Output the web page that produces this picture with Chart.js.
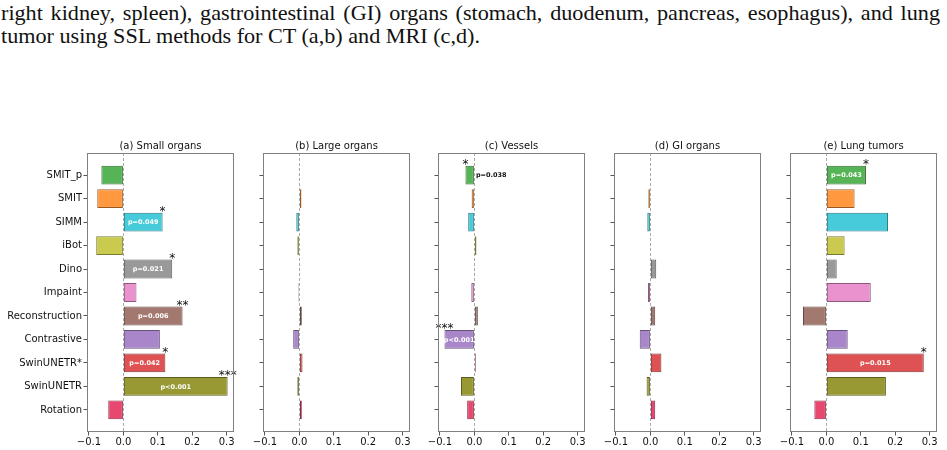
<!DOCTYPE html>
<html><head><meta charset="utf-8">
<script src="https://cdn.jsdelivr.net/npm/chart.js@4.4.0/dist/chart.umd.min.js"></script>
<style>
html,body{margin:0;padding:0;background:#fff;width:947px;height:450px;overflow:hidden;position:relative;}
.cap{position:absolute;left:1px;font-family:"Liberation Serif","DejaVu Serif",serif;font-size:21px;line-height:23px;color:#111;white-space:nowrap;transform-origin:0 0;}
canvas{position:absolute;}
</style></head><body>
<div id="l1" class="cap" style="top:2px">right kidney, spleen), gastrointestinal (GI) organs (stomach, duodenum, pancreas, esophagus), and lung</div>
<div id="l2" class="cap" style="top:25px">tumor using SSL methods for CT (a,b) and MRI (c,d).</div>
<script>
// ---- data ----
const categories = ['SMIT_p','SMIT','SIMM','iBot','Dino','Impaint','Reconstruction','Contrastive','SwinUNETR*','SwinUNETR','Rotation'];
const panelTitles = ['(a) Small organs','(b) Large organs','(c) Vessels','(d) GI organs','(e) Lung tumors'];
const xTicks = [-0.1, 0.0, 0.1, 0.2, 0.3];

const smallOrgans = [-0.064,-0.076,0.114,-0.079,0.142,0.038,0.172,0.106,0.122,0.303,-0.044];
const largeOrgans = [-0.002,0.006,-0.009,-0.006,0.001,-0.003,0.007,-0.018,0.009,-0.006,0.007];
const vessels     = [-0.026,-0.008,-0.018,0.006,0.001,-0.009,0.010,-0.087,0.004,-0.039,-0.021];
const giOrgans    = [0.002,-0.006,-0.009,0.001,0.017,-0.007,0.014,-0.031,0.032,-0.011,0.014];
const lungTumors  = [0.115,0.082,0.179,0.053,0.030,0.129,-0.068,0.062,0.283,0.173,-0.035];

const sigSmall   = ['','','*','','*','','**','','*','***',''];
const pSmall     = ['','','p=0.049','','p=0.021','','p=0.006','','p=0.042','p<0.001',''];
const sigLarge   = ['','','','','','','','','','',''];
const pLarge     = ['','','','','','','','','','',''];
const sigVessels = ['*','','','','','','','***','','',''];
const pVessels   = ['p=0.038','','','','','','','p<0.001','','',''];
const sigGI      = ['','','','','','','','','','',''];
const pGI        = ['','','','','','','','','','',''];
const sigLung    = ['*','','','','','','','','*','',''];
const pLung      = ['p=0.043','','','','','','','','p=0.015','',''];

// ---- styles ----
const fills = ['#56b356','#ff983e','#45cbd9','#c9ca4e','#999999','#e992ce','#a3786f','#a985ca','#de5253','#999933','#e8476f'];
function darken(hex,f){const n=parseInt(hex.slice(1),16);const r=Math.round(((n>>16)&255)*f),g=Math.round(((n>>8)&255)*f),b=Math.round((n&255)*f);return `rgb(${r},${g},${b})`;}
const borders = fills.map(c=>darken(c,0.6));

const panels = [
  {vals:smallOrgans, sig:sigSmall, p:pSmall},
  {vals:largeOrgans, sig:sigLarge, p:pLarge},
  {vals:vessels, sig:sigVessels, p:pVessels},
  {vals:giOrgans, sig:sigGI, p:pGI},
  {vals:lungTumors, sig:sigLung, p:pLung}
];
const plotLefts = [87,263,438,614,790];
const plotW = 147;
const FONT = "DejaVu Sans";
const XMIN=-0.1058, XMAX=0.3215, YMIN=-0.94, YMAX=10.94;

const deco = {
  id:'deco',
  beforeDatasetsDraw(chart){
    const {ctx, chartArea:a, scales:{x}} = chart;
    const zx = Math.round(x.getPixelForValue(0))+0.5;
    ctx.save();
    ctx.strokeStyle='#aaaaaa'; ctx.lineWidth=1; ctx.setLineDash([3,2]);
    ctx.beginPath(); ctx.moveTo(zx,a.top); ctx.lineTo(zx,a.bottom); ctx.stroke();
    ctx.restore();
  },
  afterDatasetsDraw(chart){
    const {ctx, chartArea:a} = chart;
    const pi = chart.options.plugins.deco.idx;
    const P = panels[pi];
    const meta = chart.getDatasetMeta(0);
    ctx.save();
    meta.data.forEach((bar,i)=>{
      const {x,y,base,height} = bar.getProps(['x','y','base','height'],true);
      if(P.p[i]){
        ctx.font = `bold 6.5px "${FONT}"`;
        const bw = Math.abs(x-base);
        ctx.textBaseline='middle';
        if(bw >= 20){
          ctx.fillStyle='#ffffff'; ctx.textAlign='center';
          ctx.fillText(P.p[i],(x+base)/2,y+0.5);
        } else {
          ctx.fillStyle='#111'; ctx.textAlign='left';
          ctx.fillText(P.p[i],Math.max(x,base)+2,y+0.5);
        }
      }
      if(P.sig[i]){
        ctx.font = `12px "${FONT}"`;
        ctx.fillStyle='#111'; ctx.textAlign='center'; ctx.textBaseline='alphabetic';
        ctx.fillText(P.sig[i], x, y-height/2+2);
      }
    });
    // panel title centred on plot area
    ctx.font = `10px "${FONT}"`;
    ctx.fillStyle='#111'; ctx.textAlign='center'; ctx.textBaseline='middle';
    ctx.fillText(panelTitles[pi], (a.left+a.right)/2, a.top-6.5);
    ctx.restore();
  },
  afterDraw(chart){
    const {ctx, chartArea:a} = chart;
    ctx.save();
    ctx.strokeStyle='#808080'; ctx.lineWidth=1;
    ctx.strokeRect(Math.round(a.left)+0.5, Math.round(a.top)+0.5, Math.round(a.right-a.left)-1, Math.round(a.bottom-a.top)-1);
    ctx.restore();
  }
};

panels.forEach((P,pi)=>{
  const yw = pi===0 ? 87 : 30;
  const left = plotLefts[pi]-yw;
  const cv = document.createElement('canvas');
  const W = yw+plotW+10, H = 320;
  cv.width=W; cv.height=H;
  cv.style.left=left+'px'; cv.style.top='130px';
  cv.style.width=W+'px'; cv.style.height=H+'px';
  document.body.appendChild(cv);
  new Chart(cv,{
    type:'bar',
    data:{datasets:[{
      data:P.vals.map((v,i)=>({x:v,y:i})),
      backgroundColor:fills, borderColor:borders, borderWidth:1, borderSkipped:false,
      barPercentage:0.8, categoryPercentage:1.0
    }]},
    options:{
      indexAxis:'y', responsive:false, animation:false, devicePixelRatio:1,
      layout:{padding:{left:0,right:10,top:23,bottom:0}},
      plugins:{
        legend:{display:false}, tooltip:{enabled:false}, title:{display:false},
        deco:{idx:pi}
      },
      scales:{
        x:{type:'linear',min:XMIN,max:XMAX,offset:false,
          afterBuildTicks:s=>{s.ticks=xTicks.map(v=>({value:v})); s.min=XMIN; s.max=XMAX;},
          ticks:{autoSkip:false,maxRotation:0,padding:1,color:'#111',font:{family:FONT,size:10},
            callback:v=>(v<0?'\u2212':'')+Math.abs(v).toFixed(1)},
          grid:{drawOnChartArea:false,offset:false,tickLength:3.5,color:'#555'},
          border:{display:false},
          afterFit:s=>{s.height=18;}
        },
        y:{type:'linear',reverse:true,min:YMIN,max:YMAX,offset:false,
          afterBuildTicks:s=>{s.ticks=categories.map((c,i)=>({value:i})); s.min=YMIN; s.max=YMAX;},
          ticks:{autoSkip:false,padding:1.5,color:'#111',font:{family:FONT,size:10},
            callback:v=>pi===0?categories[Math.round(v)]:''},
          grid:{drawOnChartArea:false,offset:false,tickLength:3.5,color:'#555'},
          border:{display:false},
          afterFit:s=>{s.width=yw;}
        }
      }
    },
    plugins:[deco]
  });
});

// caption fitting
const l1=document.getElementById('l1'), l2=document.getElementById('l2');
const w2=l2.getBoundingClientRect().width;
const s=479/w2;
l2.style.transform=`scaleX(${s})`;
const w1=l1.getBoundingClientRect().width;
const spaces=(l1.textContent.match(/ /g)||[]).length;
l1.style.wordSpacing=((939/s - w1)/spaces)+'px';
l1.style.transform=`scaleX(${s})`;
</script>
</body></html>
